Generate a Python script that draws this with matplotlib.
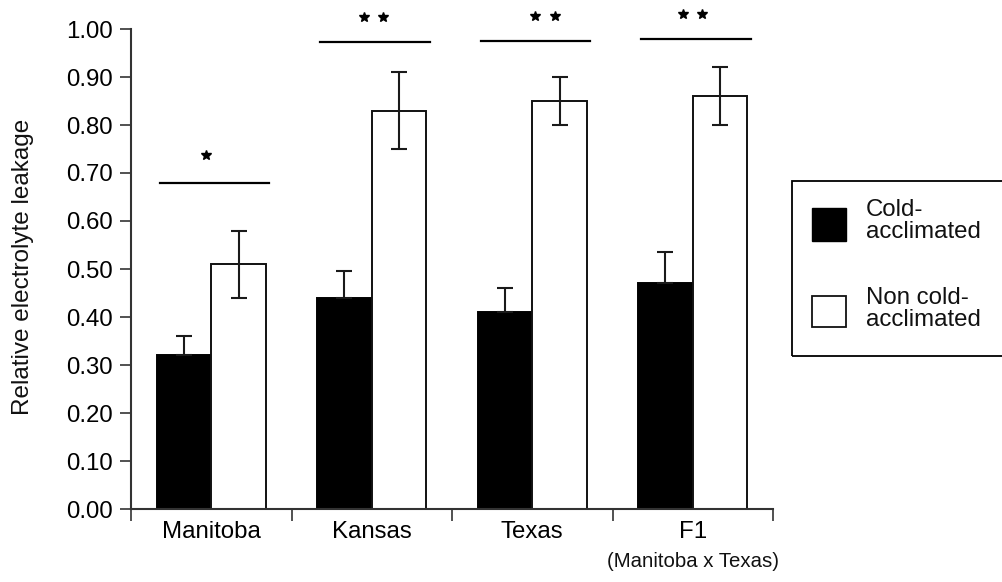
import numpy as np
import matplotlib
matplotlib.use('Agg')
import matplotlib.pyplot as plt
from matplotlib.patches import Rectangle

# Relative electrolyte leakage per population
populations = ['Manitoba', 'Kansas', 'Texas', 'F1']
cold_mean = [0.32, 0.44, 0.41, 0.47]
cold_err = [0.04, 0.055, 0.05, 0.065]
noncold_mean = [0.51, 0.83, 0.85, 0.86]
noncold_err = [0.07, 0.08, 0.05, 0.06]

# significance bars above each pair
sig_height = [0.68, 0.972, 0.976, 0.98]
sig_stars = [1, 2, 2, 2]
star_shift = [-0.03, 0.01, 0.08, 0.0]

plt.rcParams['font.family'] = ['Liberation Sans', 'DejaVu Sans']
plt.rcParams['text.color'] = '#111111'

fig = plt.figure(figsize=(10.02, 5.82), dpi=100)
ax = fig.add_axes([131 / 1002, 73 / 582, 642 / 1002, 480 / 582])

x = np.arange(len(populations))
w = 0.34
ax.bar(x - w / 2, cold_mean, w, color='black', edgecolor='black', linewidth=1.4, zorder=2)
ax.bar(x + w / 2, noncold_mean, w, color='white', edgecolor='#111111', linewidth=1.4, zorder=2)

# only the upper half of the error bar shows above the black bars
ax.errorbar(x - w / 2, cold_mean, yerr=[np.zeros(len(cold_err)), cold_err], fmt='none',
            ecolor='#1a1a1a', elinewidth=1.5, capsize=6, capthick=1.5, zorder=3)
ax.errorbar(x + w / 2, noncold_mean, yerr=noncold_err, fmt='none',
            ecolor='#1a1a1a', elinewidth=1.5, capsize=6, capthick=1.5, zorder=3)

for xi, h, n, dx in zip(x, sig_height, sig_stars, star_shift):
    ax.plot([xi - w + 0.02, xi + w + 0.02], [h, h], color='black', lw=1.6, clip_on=False)
    if n == 1:
        sx = [xi + dx]
        sy = h + 0.057
    else:
        sx = [xi + dx - 0.06, xi + dx + 0.06]
        sy = h + 0.052
    ax.plot(sx, [sy] * len(sx), ls='none', marker='*', ms=7.5, color='black', clip_on=False)

ax.set_xlim(-0.5, 3.5)
ax.set_ylim(0, 1.0)
ax.set_yticks(np.arange(0, 1.01, 0.1))
ax.set_yticklabels([f'{v:.2f}' for v in np.arange(0, 1.01, 0.1)])
ax.set_xticks(x)
ax.set_xticklabels(populations)
ax.set_xticks(np.arange(-0.5, 3.6, 1.0), minor=True)

ax.tick_params(axis='y', direction='out', length=8, width=1.2, color='#333333',
               labelsize=17.3, pad=5)
ax.tick_params(axis='x', which='major', length=0, labelsize=17.3, pad=9)
ax.tick_params(axis='x', which='minor', direction='out', length=8.5, width=1.2, color='#333333')

for side in ['top', 'right']:
    ax.spines[side].set_visible(False)
for side in ['left', 'bottom']:
    ax.spines[side].set_linewidth(1.5)
    ax.spines[side].set_color('#333333')

ax.text(3, -0.11, '(Manitoba x Texas)', transform=ax.get_xaxis_transform(),
        ha='center', va='center', fontsize=14.7)

fig.text(23 / 1002, (582 - 267) / 582, 'Relative electrolyte leakage', rotation=90,
         ha='center', va='center', fontsize=17.5)

# legend box, running off the right edge
fig.add_artist(Rectangle((792 / 1002, (582 - 356) / 582), 0.25, 175 / 582,
                         transform=fig.transFigure, facecolor='none',
                         edgecolor='black', linewidth=1.3, clip_on=False))
fig.add_artist(Rectangle((812 / 1002, (582 - 241) / 582), 34 / 1002, 33 / 582,
                         transform=fig.transFigure, facecolor='black',
                         edgecolor='black', linewidth=1.0))
fig.add_artist(Rectangle((812 / 1002, (582 - 327) / 582), 34 / 1002, 31 / 582,
                         transform=fig.transFigure, facecolor='white',
                         edgecolor='#111111', linewidth=1.3))
fig.text(866 / 1002, (582 - 221) / 582, 'Cold-\nacclimated', ha='left', va='center',
         fontsize=17.3, linespacing=1.0)
fig.text(866 / 1002, (582 - 309) / 582, 'Non cold-\nacclimated', ha='left', va='center',
         fontsize=17.3, linespacing=1.0)

fig.savefig('out.png', dpi=100)
